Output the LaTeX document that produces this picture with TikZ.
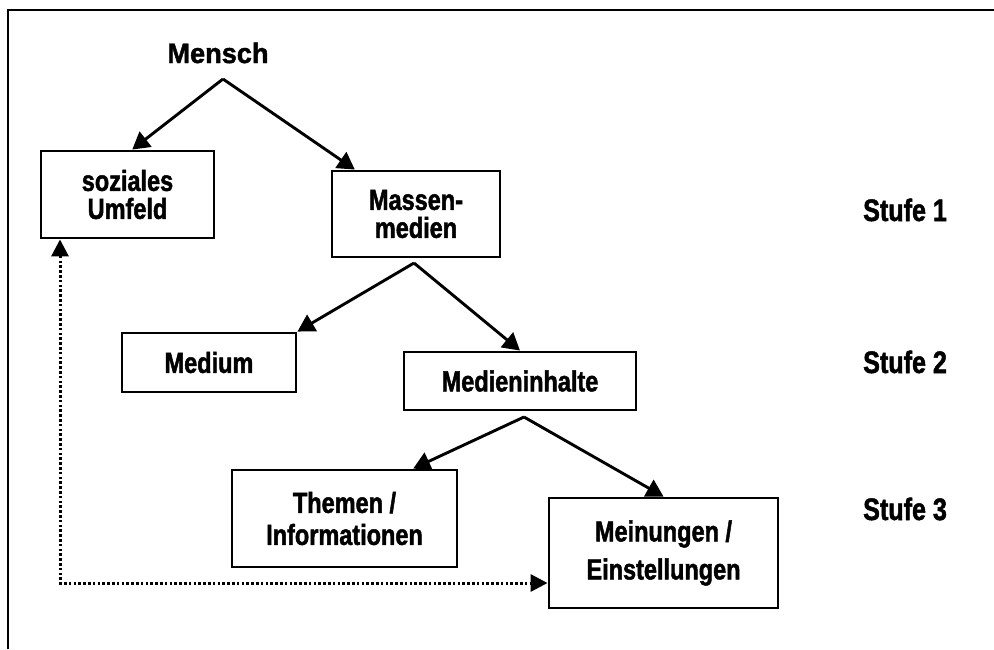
\documentclass[tikz,border=0pt]{standalone}
\usepackage{fontspec}
\setmainfont{Liberation Sans}
\newfontfamily\narrowbf{Liberation Sans Bold}[FakeStretch=0.81,FakeBold=1.6]
\newfontfamily\heavybf{Liberation Sans Bold}[FakeStretch=0.97,FakeBold=1.6]
\usetikzlibrary{arrows.meta}

\begin{document}
\begin{tikzpicture}[x=1pt,y=-1pt,>={Triangle[length=17pt,width=19pt]},
  box/.style={draw,line width=2.9pt,inner sep=0pt,align=center,
    font=\narrowbf\fontsize{29}{28}\selectfont},
  conn/.style={line width=2.9pt,->},
  dotconn/.style={line width=3pt,dash pattern=on 2.6pt off 2.2pt,
    {Triangle[length=17pt,width=17pt]}-{Triangle[length=17pt,width=17pt]}},
  stufe/.style={anchor=base west,inner sep=0pt,
    font=\narrowbf\fontsize{31}{32}\selectfont}]
  \useasboundingbox (0,0) rectangle (994,649);
  \fill[white] (0,0) rectangle (994,649);
  % frame
  \draw[line width=2.8pt] (8,649) -- (8,10) -- (994,10);

  \node[anchor=base,inner sep=0pt,font=\heavybf\fontsize{28}{30}\selectfont]
    (mensch) at (218,63) {Mensch};
  \node[box,minimum width=173pt,minimum height=87pt] (sozial) at (127.5,194.5) {soziales\\Umfeld};
  \node[box,minimum width=168pt,minimum height=86pt] (massen) at (416,214) {Massen-\\medien};
  \node[box,minimum width=174pt,minimum height=59pt] (medium) at (209,362.5) {Medium};
  \node[box,minimum width=232pt,minimum height=58pt] (inhalte) at (520,381) {Medieninhalte};
  \node[box,minimum width=225pt,minimum height=97pt] (themen) at (344.5,518.5) {Themen /\\[4pt]Informationen};
  \node[box,minimum width=229pt,minimum height=110pt] (meinung) at (663.5,553) {Meinungen /\\[10pt]Einstellungen};

  \node[stufe] (stufeA) at (863,221) {Stufe 1};
  \node[stufe] (stufeB) at (863,373) {Stufe 2};
  \node[stufe] (stufeC) at (863,520) {Stufe 3};

  % forks
  \coordinate (forkA) at (223,79);
  \coordinate (forkB) at (414,263);
  \coordinate (forkC) at (524,417);
  \draw[conn] (forkA) -- (sozial.84);
  \draw[conn] (forkA) -- (massen.144);
  \draw[conn] (forkB) -- (medium.north east);
  \draw[conn] (forkB) -- (inhalte.north);
  \draw[conn] (forkC) -- (themen.36);
  \draw[conn] (forkC) -- (meinung.north);

  % feedback
  \coordinate (turn) at (60,583);
  \draw[dotconn] (sozial.south -| turn) -- (turn) -- (meinung.west |- turn);
\end{tikzpicture}
\end{document}
